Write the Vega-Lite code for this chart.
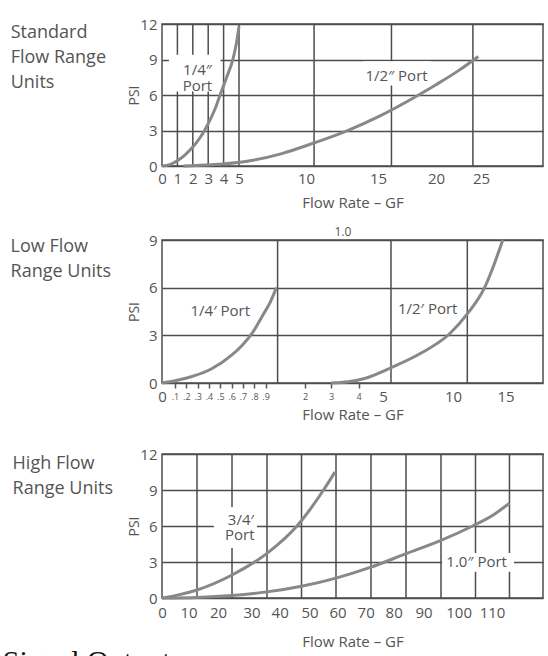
{
  "$schema": "https://vega.github.io/schema/vega-lite/v6.json",
  "background": "white",
  "padding": {"left": 2, "top": 16, "right": 0, "bottom": 0},
  "config": {
    "view": {"stroke": "#4d4d4d", "strokeWidth": 1.5},
    "font": "Open Sans",
    "axis": {
      "labelFont": "Open Sans", "labelFontSize": 15, "labelColor": "#555",
      "titleFont": "Open Sans", "titleFontSize": 15, "titleColor": "#555", "titleFontWeight": "normal",
      "domain": false, "ticks": false, "labelOverlap": false, "labelFlush": false, "labelBound": false,
      "gridColor": "#4d4d4d", "gridWidth": 1.5, "gridOpacity": 1
    }
  },
  "title": {"text": "Signal Output", "orient": "bottom", "anchor": "start", "frame": "bounds", "font": "Liberation Serif", "fontSize": 30, "fontWeight": "normal", "color": "#111", "baseline": "top", "offset": 0, "dx": -7, "dy": -3},
  "datasets": {
    "p1_grid": [{"flow": 1}, {"flow": 2}, {"flow": 3}, {"flow": 4}, {"flow": 5}, {"flow": 10.56}, {"flow": 16.16}, {"flow": 24.1}],
    "p1_gaps": [
      {"flow": 0.45, "flow2": 3.8, "psi": 9.4, "psi2": 6.3},
      {"flow": 13.96, "flow2": 19.57, "psi": 8.85, "psi2": 6.8}
    ],
    "p1_curves": [
      {"series": "1/4", "flow": 0, "psi": 0}, {"series": "1/4", "flow": 0.5, "psi": 0.12}, {"series": "1/4", "flow": 1, "psi": 0.45},
      {"series": "1/4", "flow": 1.5, "psi": 0.95}, {"series": "1/4", "flow": 2, "psi": 1.6}, {"series": "1/4", "flow": 2.5, "psi": 2.45},
      {"series": "1/4", "flow": 2.76, "psi": 3}, {"series": "1/4", "flow": 3.2, "psi": 4.1}, {"series": "1/4", "flow": 3.5, "psi": 5.0},
      {"series": "1/4", "flow": 3.77, "psi": 6}, {"series": "1/4", "flow": 4.2, "psi": 7.5}, {"series": "1/4", "flow": 4.6, "psi": 9},
      {"series": "1/4", "flow": 4.85, "psi": 10.5}, {"series": "1/4", "flow": 5.0, "psi": 11.8},
      {"series": "1/2", "flow": 1.4, "psi": 0}, {"series": "1/2", "flow": 3.2, "psi": 0.1}, {"series": "1/2", "flow": 5.6, "psi": 0.4},
      {"series": "1/2", "flow": 8.2, "psi": 1.05}, {"series": "1/2", "flow": 10.56, "psi": 1.95}, {"series": "1/2", "flow": 12.8, "psi": 2.95},
      {"series": "1/2", "flow": 15, "psi": 4.15}, {"series": "1/2", "flow": 18.5, "psi": 6}, {"series": "1/2", "flow": 20, "psi": 6.87},
      {"series": "1/2", "flow": 22.5, "psi": 8.06}, {"series": "1/2", "flow": 24.7, "psi": 9.26}
    ],
    "p1_labels": [
      {"flow": 2.3, "psi": 8.13, "label": "1/4″"},
      {"flow": 2.3, "psi": 6.75, "label": "Port"},
      {"flow": 16.6, "psi": 7.6, "label": "1/2″ Port"}
    ],
    "p2_grid": [{"flow": 1}, {"flow": 5.57}, {"flow": 11.36}],
    "p2_curves": [
      {"series": "1/4", "flow": 0, "psi": 0}, {"series": "1/4", "flow": 0.1, "psi": 0.14}, {"series": "1/4", "flow": 0.25, "psi": 0.41},
      {"series": "1/4", "flow": 0.42, "psi": 0.88}, {"series": "1/4", "flow": 0.6, "psi": 1.75}, {"series": "1/4", "flow": 0.69, "psi": 2.35},
      {"series": "1/4", "flow": 0.78, "psi": 3.12}, {"series": "1/4", "flow": 0.88, "psi": 4.32}, {"series": "1/4", "flow": 0.94, "psi": 5.11},
      {"series": "1/4", "flow": 0.99, "psi": 6.0},
      {"series": "1/2", "flow": 3, "psi": 0}, {"series": "1/2", "flow": 3.62, "psi": 0.08}, {"series": "1/2", "flow": 4.28, "psi": 0.3},
      {"series": "1/2", "flow": 5.57, "psi": 0.96}, {"series": "1/2", "flow": 7.76, "psi": 1.9}, {"series": "1/2", "flow": 9.76, "psi": 3.1},
      {"series": "1/2", "flow": 11.36, "psi": 4.35}, {"series": "1/2", "flow": 13.0, "psi": 6.0}, {"series": "1/2", "flow": 13.87, "psi": 7.4},
      {"series": "1/2", "flow": 14.73, "psi": 9.0}
    ],
    "p2_labels": [
      {"flow": 0.5, "psi": 4.53, "label": "1/4′ Port"},
      {"flow": 8.19, "psi": 4.64, "label": "1/2′ Port"}
    ],
    "p2_note": [{"flow": 3.43, "psi": 9.5, "label": "1.0"}],
    "p3_grid": [{"flow": 12.88}, {"flow": 24.17}, {"flow": 35.48}, {"flow": 47.32}, {"flow": 59.43}, {"flow": 71.89}, {"flow": 84.11}, {"flow": 94.97}, {"flow": 105.06}, {"flow": 115.24}],
    "p3_gaps": [
      {"flow": 18.6, "flow2": 31.9, "psi": 7.58, "psi2": 4.17},
      {"flow": 95.3, "flow2": 116.6, "psi": 3.75, "psi2": 2.19}
    ],
    "p3_curves": [
      {"series": "3/4", "flow": 0, "psi": 0}, {"series": "3/4", "flow": 5, "psi": 0.2}, {"series": "3/4", "flow": 12.88, "psi": 0.67},
      {"series": "3/4", "flow": 24.17, "psi": 1.92}, {"series": "3/4", "flow": 35.48, "psi": 3.72}, {"series": "3/4", "flow": 45.8, "psi": 6.0},
      {"series": "3/4", "flow": 55.0, "psi": 9.0}, {"series": "3/4", "flow": 59.07, "psi": 10.5},
      {"series": "1.0", "flow": 0, "psi": 0}, {"series": "1.0", "flow": 12.88, "psi": 0.05}, {"series": "1.0", "flow": 24.17, "psi": 0.21},
      {"series": "1.0", "flow": 35.48, "psi": 0.51}, {"series": "1.0", "flow": 47.32, "psi": 0.98}, {"series": "1.0", "flow": 59.43, "psi": 1.66},
      {"series": "1.0", "flow": 71.89, "psi": 2.57}, {"series": "1.0", "flow": 84.11, "psi": 3.69}, {"series": "1.0", "flow": 94.97, "psi": 4.8},
      {"series": "1.0", "flow": 104.2, "psi": 6.0}, {"series": "1.0", "flow": 110, "psi": 6.85}, {"series": "1.0", "flow": 115.24, "psi": 7.9}
    ],
    "p3_labels": [
      {"flow": 26.8, "psi": 6.5, "label": "3/4′"},
      {"flow": 26.5, "psi": 5.25, "label": "Port"},
      {"flow": 105.4, "psi": 3.03, "label": "1.0″ Port"}
    ]
  },
  "spacing": 23,
  "vconcat": [
    {
      "spacing": 14,
      "vconcat": [
        {
          "width": 381, "height": 142,
          "title": {"text": ["Standard", "Flow Range", "Units"], "orient": "left", "anchor": "end", "frame": "group", "angle": 0, "align": "left", "baseline": "top", "font": "Open Sans", "fontSize": 18, "fontWeight": "normal", "color": "#555", "lineHeight": 25, "offset": 21, "dy": 0},
          "layer": [
            {"data": {"name": "p1_grid"}, "mark": {"type": "rule", "color": "#4d4d4d", "strokeWidth": 1.5},
             "encoding": {"x": {"field": "flow", "type": "quantitative", "scale": {"domain": [0, 5, 10, 15, 20, 25, 32], "range": [0, 77, 144, 216, 274, 319, 381], "nice": false, "zero": false}, "axis": {"values": [0, 1, 2, 3, 4, 5, 10, 15, 20, 25], "title": "Flow Rate – GF", "grid": false, "labelBaseline": "middle", "labelPadding": 12.5, "titleY": 36, "titleBaseline": "middle"}}}},
            {"data": {"name": "p1_gaps"}, "mark": {"type": "rect", "fill": "white"},
             "encoding": {
               "x": {"field": "flow", "type": "quantitative", "scale": {"domain": [0, 5, 10, 15, 20, 25, 32], "range": [0, 77, 144, 216, 274, 319, 381], "nice": false, "zero": false}, "axis": {"values": [0, 1, 2, 3, 4, 5, 10, 15, 20, 25], "title": "Flow Rate – GF", "grid": false, "labelBaseline": "middle", "labelPadding": 12.5, "titleY": 36, "titleBaseline": "middle"}},
               "x2": {"field": "flow2"},
               "y": {"field": "psi", "type": "quantitative", "scale": {"domain": [0, 12], "nice": false, "zero": false}, "axis": {"values": [0, 3, 6, 9, 12], "title": "PSI", "grid": true, "labelPadding": 5, "titleX": -28, "titleY": 71, "titleAngle": -90, "titleBaseline": "middle", "titleAlign": "center", "titleFontSize": 14}},
               "y2": {"field": "psi2"}}},
            {"data": {"name": "p1_curves"}, "mark": {"type": "line", "color": "#888", "strokeWidth": 3, "interpolate": "monotone"},
             "encoding": {
               "x": {"field": "flow", "type": "quantitative", "scale": {"domain": [0, 5, 10, 15, 20, 25, 32], "range": [0, 77, 144, 216, 274, 319, 381], "nice": false, "zero": false}, "axis": {"values": [0, 1, 2, 3, 4, 5, 10, 15, 20, 25], "title": "Flow Rate – GF", "grid": false, "labelBaseline": "middle", "labelPadding": 12.5, "titleY": 36, "titleBaseline": "middle"}},
               "y": {"field": "psi", "type": "quantitative", "scale": {"domain": [0, 12], "nice": false, "zero": false}, "axis": {"values": [0, 3, 6, 9, 12], "title": "PSI", "grid": true, "labelPadding": 5, "titleX": -28, "titleY": 71, "titleAngle": -90, "titleBaseline": "middle", "titleAlign": "center", "titleFontSize": 14}},
               "detail": {"field": "series"}}},
            {"data": {"name": "p1_labels"}, "mark": {"type": "text", "font": "Open Sans", "fontSize": 15, "color": "#555", "fill": "#555"},
             "encoding": {
               "x": {"field": "flow", "type": "quantitative", "scale": {"domain": [0, 5, 10, 15, 20, 25, 32], "range": [0, 77, 144, 216, 274, 319, 381], "nice": false, "zero": false}, "axis": {"values": [0, 1, 2, 3, 4, 5, 10, 15, 20, 25], "title": "Flow Rate – GF", "grid": false, "labelBaseline": "middle", "labelPadding": 12.5, "titleY": 36, "titleBaseline": "middle"}},
               "y": {"field": "psi", "type": "quantitative", "scale": {"domain": [0, 12], "nice": false, "zero": false}, "axis": {"values": [0, 3, 6, 9, 12], "title": "PSI", "grid": true, "labelPadding": 5, "titleX": -28, "titleY": 71, "titleAngle": -90, "titleBaseline": "middle", "titleAlign": "center", "titleFontSize": 14}},
               "text": {"field": "label"}}}
          ]
        },
        {
          "width": 381, "height": 143,
          "title": {"text": ["Low Flow", "Range Units"], "orient": "left", "anchor": "end", "frame": "group", "angle": 0, "align": "left", "baseline": "top", "font": "Open Sans", "fontSize": 18, "fontWeight": "normal", "color": "#555", "lineHeight": 25, "offset": 16, "dy": -2},
          "layer": [
            {"data": {"name": "p2_grid"}, "mark": {"type": "rule", "color": "#4d4d4d", "strokeWidth": 1.5},
             "encoding": {"x": {"field": "flow", "type": "quantitative", "scale": {"domain": [0, 0.1, 0.9, 1, 2, 3, 4, 5, 10, 15, 18.6], "range": [0, 13, 103.6, 115.6, 143, 169, 196.6, 221, 291, 343.6, 381], "nice": false, "zero": false}, "axis": {"values": [0, 0.1, 0.2, 0.3, 0.4, 0.5, 0.6, 0.7, 0.8, 0.9, 2, 3, 4, 5, 10, 15], "title": "Flow Rate – GF", "grid": false, "ticks": true, "tickSize": 5, "tickColor": "#555", "tickWidth": 1.5, "tickOpacity": {"condition": {"test": "datum.value > 0 && datum.value < 4.5", "value": 1}, "value": 0}, "labelFontSize": {"condition": {"test": "(datum.value > 0 && datum.value < 1) || (datum.value >= 2 && datum.value <= 4)", "value": 9}, "value": 15}, "labelExpr": "datum.value > 0 && datum.value < 1 ? '.' + round(datum.value * 10) : '' + datum.value", "labelBaseline": "middle", "labelPadding": 8, "titleY": 31, "titleBaseline": "middle"}}}},
            {"data": {"name": "p2_curves"}, "mark": {"type": "line", "color": "#888", "strokeWidth": 3, "interpolate": "monotone"},
             "encoding": {
               "x": {"field": "flow", "type": "quantitative", "scale": {"domain": [0, 0.1, 0.9, 1, 2, 3, 4, 5, 10, 15, 18.6], "range": [0, 13, 103.6, 115.6, 143, 169, 196.6, 221, 291, 343.6, 381], "nice": false, "zero": false}, "axis": {"values": [0, 0.1, 0.2, 0.3, 0.4, 0.5, 0.6, 0.7, 0.8, 0.9, 2, 3, 4, 5, 10, 15], "title": "Flow Rate – GF", "grid": false, "ticks": true, "tickSize": 5, "tickColor": "#555", "tickWidth": 1.5, "tickOpacity": {"condition": {"test": "datum.value > 0 && datum.value < 4.5", "value": 1}, "value": 0}, "labelFontSize": {"condition": {"test": "(datum.value > 0 && datum.value < 1) || (datum.value >= 2 && datum.value <= 4)", "value": 9}, "value": 15}, "labelExpr": "datum.value > 0 && datum.value < 1 ? '.' + round(datum.value * 10) : '' + datum.value", "labelBaseline": "middle", "labelPadding": 8, "titleY": 31, "titleBaseline": "middle"}},
               "y": {"field": "psi", "type": "quantitative", "scale": {"domain": [0, 9], "nice": false, "zero": false}, "axis": {"values": [0, 3, 6, 9], "title": "PSI", "grid": true, "labelPadding": 5, "titleX": -28, "titleY": 71.5, "titleAngle": -90, "titleBaseline": "middle", "titleAlign": "center", "titleFontSize": 14}},
               "detail": {"field": "series"}}},
            {"data": {"name": "p2_labels"}, "mark": {"type": "text", "font": "Open Sans", "fontSize": 15, "color": "#555", "fill": "#555"},
             "encoding": {
               "x": {"field": "flow", "type": "quantitative", "scale": {"domain": [0, 0.1, 0.9, 1, 2, 3, 4, 5, 10, 15, 18.6], "range": [0, 13, 103.6, 115.6, 143, 169, 196.6, 221, 291, 343.6, 381], "nice": false, "zero": false}, "axis": {"values": [0, 0.1, 0.2, 0.3, 0.4, 0.5, 0.6, 0.7, 0.8, 0.9, 2, 3, 4, 5, 10, 15], "title": "Flow Rate – GF", "grid": false, "ticks": true, "tickSize": 5, "tickColor": "#555", "tickWidth": 1.5, "tickOpacity": {"condition": {"test": "datum.value > 0 && datum.value < 4.5", "value": 1}, "value": 0}, "labelFontSize": {"condition": {"test": "(datum.value > 0 && datum.value < 1) || (datum.value >= 2 && datum.value <= 4)", "value": 9}, "value": 15}, "labelExpr": "datum.value > 0 && datum.value < 1 ? '.' + round(datum.value * 10) : '' + datum.value", "labelBaseline": "middle", "labelPadding": 8, "titleY": 31, "titleBaseline": "middle"}},
               "y": {"field": "psi", "type": "quantitative", "scale": {"domain": [0, 9], "nice": false, "zero": false}, "axis": {"values": [0, 3, 6, 9], "title": "PSI", "grid": true, "labelPadding": 5, "titleX": -28, "titleY": 71.5, "titleAngle": -90, "titleBaseline": "middle", "titleAlign": "center", "titleFontSize": 14}},
               "text": {"field": "label"}}},
            {"data": {"name": "p2_note"}, "mark": {"type": "text", "font": "Open Sans", "fontSize": 12, "color": "#555", "fill": "#555"},
             "encoding": {
               "x": {"field": "flow", "type": "quantitative", "scale": {"domain": [0, 0.1, 0.9, 1, 2, 3, 4, 5, 10, 15, 18.6], "range": [0, 13, 103.6, 115.6, 143, 169, 196.6, 221, 291, 343.6, 381], "nice": false, "zero": false}, "axis": {"values": [0, 0.1, 0.2, 0.3, 0.4, 0.5, 0.6, 0.7, 0.8, 0.9, 2, 3, 4, 5, 10, 15], "title": "Flow Rate – GF", "grid": false, "ticks": true, "tickSize": 5, "tickColor": "#555", "tickWidth": 1.5, "tickOpacity": {"condition": {"test": "datum.value > 0 && datum.value < 4.5", "value": 1}, "value": 0}, "labelFontSize": {"condition": {"test": "(datum.value > 0 && datum.value < 1) || (datum.value >= 2 && datum.value <= 4)", "value": 9}, "value": 15}, "labelExpr": "datum.value > 0 && datum.value < 1 ? '.' + round(datum.value * 10) : '' + datum.value", "labelBaseline": "middle", "labelPadding": 8, "titleY": 31, "titleBaseline": "middle"}},
               "y": {"field": "psi", "type": "quantitative", "scale": {"domain": [0, 9], "nice": false, "zero": false}, "axis": {"values": [0, 3, 6, 9], "title": "PSI", "grid": true, "labelPadding": 5, "titleX": -28, "titleY": 71.5, "titleAngle": -90, "titleBaseline": "middle", "titleAlign": "center", "titleFontSize": 14}},
               "text": {"field": "label"}}}
          ]
        }
      ]
    },
    {
      "width": 381, "height": 144,
      "title": {"text": ["High Flow", "Range Units"], "orient": "left", "anchor": "end", "frame": "group", "angle": 0, "align": "left", "baseline": "top", "font": "Open Sans", "fontSize": 18, "fontWeight": "normal", "color": "#555", "lineHeight": 25, "offset": 14, "dy": 1},
      "layer": [
        {"data": {"name": "p3_grid"}, "mark": {"type": "rule", "color": "#4d4d4d", "strokeWidth": 1.5},
         "encoding": {"x": {"field": "flow", "type": "quantitative", "scale": {"domain": [0, 10, 20, 30, 40, 50, 60, 70, 80, 90, 100, 110, 125.3], "range": [0, 26.5, 56, 89.6, 117.7, 147.5, 175.6, 203.7, 231.7, 261.6, 296.6, 330, 381], "nice": false, "zero": false}, "axis": {"values": [0, 10, 20, 30, 40, 50, 60, 70, 80, 90, 100, 110], "title": "Flow Rate – GF", "grid": false, "labelBaseline": "middle", "labelPadding": 14.5, "titleY": 43, "titleBaseline": "middle"}}}},
        {"data": {"name": "p3_gaps"}, "mark": {"type": "rect", "fill": "white"},
         "encoding": {
           "x": {"field": "flow", "type": "quantitative", "scale": {"domain": [0, 10, 20, 30, 40, 50, 60, 70, 80, 90, 100, 110, 125.3], "range": [0, 26.5, 56, 89.6, 117.7, 147.5, 175.6, 203.7, 231.7, 261.6, 296.6, 330, 381], "nice": false, "zero": false}, "axis": {"values": [0, 10, 20, 30, 40, 50, 60, 70, 80, 90, 100, 110], "title": "Flow Rate – GF", "grid": false, "labelBaseline": "middle", "labelPadding": 14.5, "titleY": 43, "titleBaseline": "middle"}},
           "x2": {"field": "flow2"},
           "y": {"field": "psi", "type": "quantitative", "scale": {"domain": [0, 12], "nice": false, "zero": false}, "axis": {"values": [0, 3, 6, 9, 12], "title": "PSI", "grid": true, "labelPadding": 5, "titleX": -28, "titleY": 72, "titleAngle": -90, "titleBaseline": "middle", "titleAlign": "center", "titleFontSize": 14}},
           "y2": {"field": "psi2"}}},
        {"data": {"name": "p3_curves"}, "mark": {"type": "line", "color": "#888", "strokeWidth": 3, "interpolate": "monotone"},
         "encoding": {
           "x": {"field": "flow", "type": "quantitative", "scale": {"domain": [0, 10, 20, 30, 40, 50, 60, 70, 80, 90, 100, 110, 125.3], "range": [0, 26.5, 56, 89.6, 117.7, 147.5, 175.6, 203.7, 231.7, 261.6, 296.6, 330, 381], "nice": false, "zero": false}, "axis": {"values": [0, 10, 20, 30, 40, 50, 60, 70, 80, 90, 100, 110], "title": "Flow Rate – GF", "grid": false, "labelBaseline": "middle", "labelPadding": 14.5, "titleY": 43, "titleBaseline": "middle"}},
           "y": {"field": "psi", "type": "quantitative", "scale": {"domain": [0, 12], "nice": false, "zero": false}, "axis": {"values": [0, 3, 6, 9, 12], "title": "PSI", "grid": true, "labelPadding": 5, "titleX": -28, "titleY": 72, "titleAngle": -90, "titleBaseline": "middle", "titleAlign": "center", "titleFontSize": 14}},
           "detail": {"field": "series"}}},
        {"data": {"name": "p3_labels"}, "mark": {"type": "text", "font": "Open Sans", "fontSize": 15, "color": "#555", "fill": "#555"},
         "encoding": {
           "x": {"field": "flow", "type": "quantitative", "scale": {"domain": [0, 10, 20, 30, 40, 50, 60, 70, 80, 90, 100, 110, 125.3], "range": [0, 26.5, 56, 89.6, 117.7, 147.5, 175.6, 203.7, 231.7, 261.6, 296.6, 330, 381], "nice": false, "zero": false}, "axis": {"values": [0, 10, 20, 30, 40, 50, 60, 70, 80, 90, 100, 110], "title": "Flow Rate – GF", "grid": false, "labelBaseline": "middle", "labelPadding": 14.5, "titleY": 43, "titleBaseline": "middle"}},
           "y": {"field": "psi", "type": "quantitative", "scale": {"domain": [0, 12], "nice": false, "zero": false}, "axis": {"values": [0, 3, 6, 9, 12], "title": "PSI", "grid": true, "labelPadding": 5, "titleX": -28, "titleY": 72, "titleAngle": -90, "titleBaseline": "middle", "titleAlign": "center", "titleFontSize": 14}},
           "text": {"field": "label"}}}
      ]
    }
  ]
}
